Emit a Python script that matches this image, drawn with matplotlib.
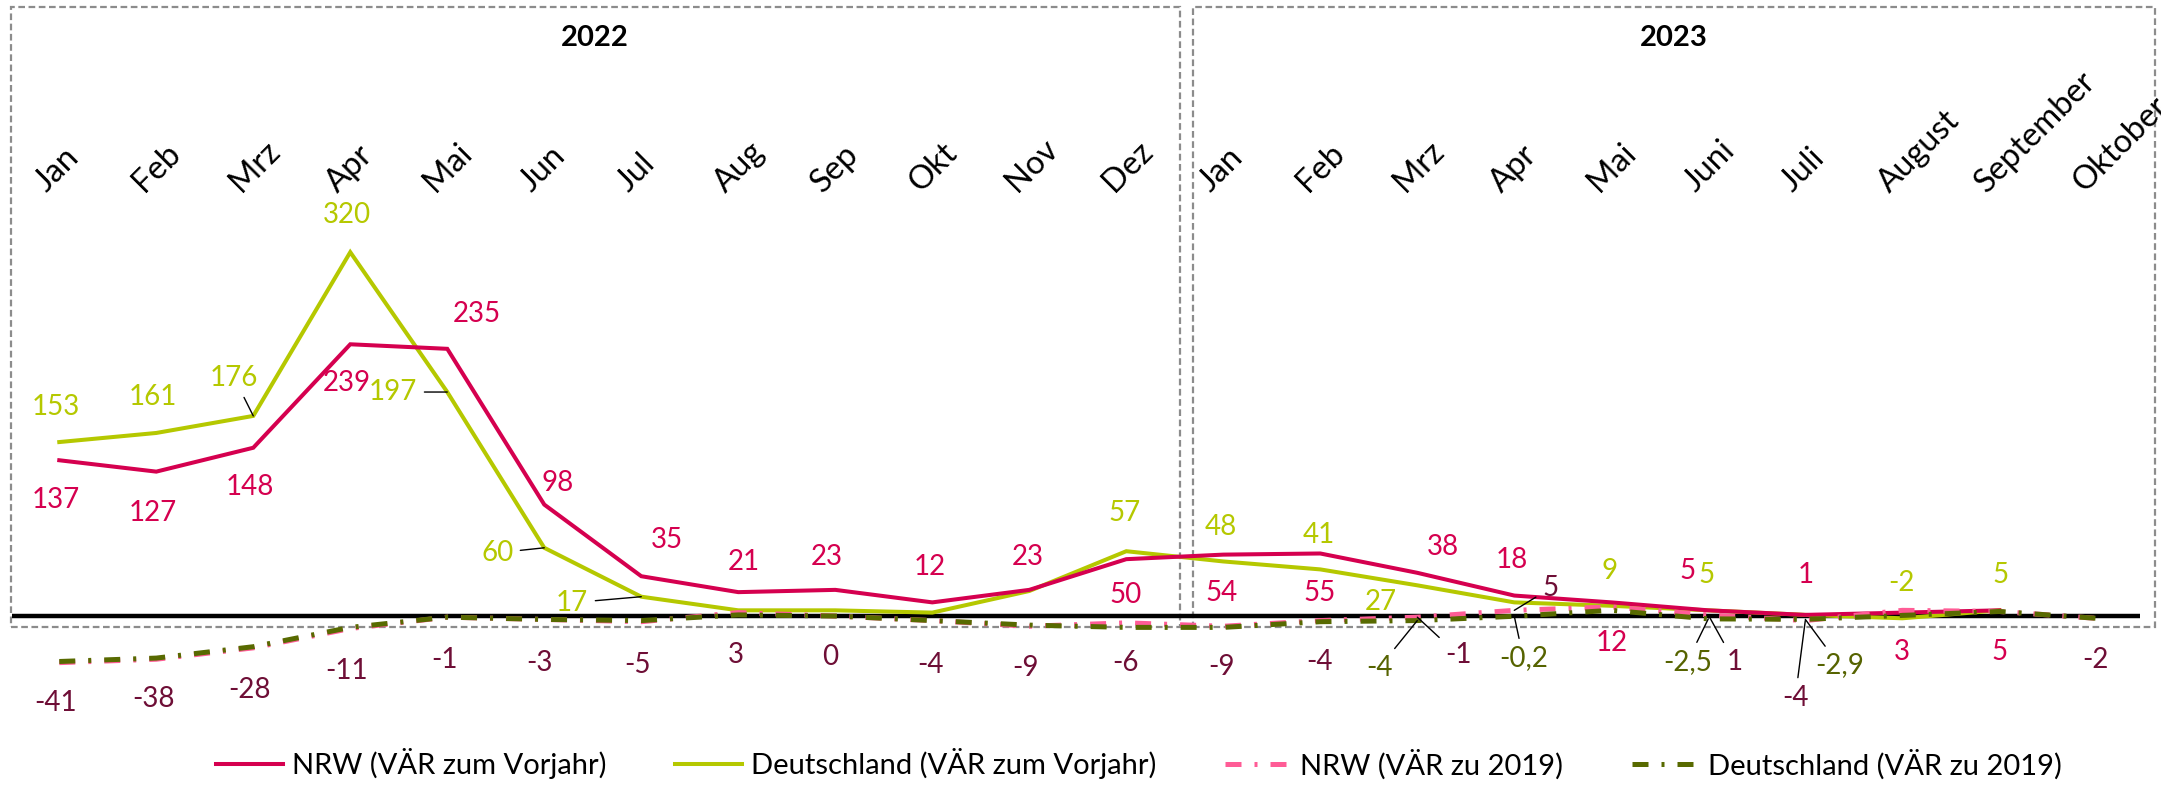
import matplotlib
matplotlib.use('Agg')
import matplotlib.pyplot as plt
import numpy as np
from matplotlib.patches import Rectangle
from matplotlib.lines import Line2D

plt.rcParams['font.family'] = ['Lato', 'DejaVu Sans']

# ---------------- data ----------------
years = ['2022', '2023']
months_2022 = ['Jan', 'Feb', 'Mrz', 'Apr', 'Mai', 'Jun', 'Jul', 'Aug', 'Sep', 'Okt', 'Nov', 'Dez']
months_2023 = ['Jan', 'Feb', 'Mrz', 'Apr', 'Mai', 'Juni', 'Juli', 'August', 'September', 'Oktober']

series_names = ['NRW (VÄR zum Vorjahr)', 'Deutschland (VÄR zum Vorjahr)',
                'NRW (VÄR zu 2019)', 'Deutschland (VÄR zu 2019)']

nrw_vorjahr = [137, 127, 148, 239, 235, 98, 35, 21, 23, 12, 23, 50,
               54, 55, 38, 18, 12, 5, 1, 3, 5, np.nan]
de_vorjahr = [153, 161, 176, 320, 197, 60, 17, 5, 5, 3, 22, 57,
              48, 41, 27, 12, 9, 5, 1, -2, 5, np.nan]
nrw_2019 = [-41, -38, -28, -11, -1, -3, -5, 3, 0, -4, -9, -6,
            -9, -4, -1, 5, 8, 1, -4, 5, 4, -2]
de_2019 = [-40, -37, -27, -10, -1, -3, -4, 1, 0, -4, -8, -10,
           -10, -5, -4, -0.2, 5, -2.5, -2.9, 0.5, 4, -2]

# ---------------- label placement (pixel offsets: dx right, dy down, leader) ----------------
L = True
N = False
nrw_vj_lab = [(-3, 40, N), (-3, 41, N), (-3, 39, N), (-3, 39, N), (30, -35, N), (13, -22, N),
              (26, -36, N), (6, -30, N), (-9, -33, N), (-3, -35, N), (-2, -33, N), (-1, 36, N),
              (-2, 38, N), (-1, 40, N), (26, -26, N), (-2, -36, N), (0, 41, N), (-21, -39, N),
              (0, -40, N), (0, 39, N), (0, 42, N), None]
de_vj_lab = [(-3, -35, N), (-3, -36, N), (-19, -38, L), (-3, -37, N), (-54, 0, L), (-47, 5, L),
             (-69, 6, L), None, None, None, None, (-2, -38, N),
             (-2, -34, N), (-1, -34, N), (-36, 17, N), None, (-2, -35, N), (-2, -35, N),
             None, (-1, -35, N), (1, -35, N), None]
nrw_19_lab = [(-4, 40, N), (-3, 40, N), (-4, 42, N), (-4, 42, N), (-3, 43, N), (-5, 44, N),
              (-4, 43, N), (-2, 42, N), (-5, 41, N), (-2, 44, N), (-4, 42, N), (-1, 40, N),
              (-2, 41, N), (-1, 41, N), (41, 38, L), (36, -22, L), None, (26, 47, L),
              (-10, 77, L), None, None, (-1, 42, N)]
de_19_lab = [None] * 14 + [(-38, 47, L), (9, 42, L), None, (-21, 43, L), (34, 46, L),
                           None, None, None]

# ---------------- style ----------------
C_NRW = '#D5004F'
C_DE = '#B5C800'
C_NRW19 = '#FF5C96'
C_DE19 = '#586A00'
C_LAB_NRW19 = '#6E0E36'
C_LAB_DE19 = '#566300'
FS = 20

fig = plt.figure(figsize=(21.61, 7.86), dpi=100)
ax = fig.add_axes([0, 0, 1, 1])
ax.set_xlim(-0.611, 21.667)
ax.set_ylim(-149.5, 541.8)
ax.axis('off')

months = months_2022 + months_2023
x = np.arange(len(months))

# zero line
ax.plot([-0.49, 21.45], [0, 0], color='black', lw=3.2, zorder=1.5, solid_capstyle='butt')

dashdot = (0, (3.2, 2.6, 0.6, 2.6))
ax.plot(x, nrw_vorjahr, color=C_NRW, lw=2.9, zorder=3, solid_joinstyle='miter')
ax.plot(x, de_vorjahr, color=C_DE, lw=2.9, zorder=2.9, solid_joinstyle='miter')
ax.plot(x, nrw_2019, color=C_NRW19, lw=3.6, ls=dashdot, zorder=3.1)
ax.plot(x, de_2019, color=C_DE19, lw=3.6, ls=dashdot, zorder=3.2)


def fmt(v):
    if float(v).is_integer():
        return str(int(v))
    return ('%g' % v).replace('.', ',')


def put_labels(vals, labs, color):
    for i, (v, lab) in enumerate(zip(vals, labs)):
        if lab is None or np.isnan(v):
            continue
        dx, dy, leader = lab
        kw = {}
        if leader:
            kw['arrowprops'] = dict(arrowstyle='-', color='black', lw=1.0,
                                    shrinkA=3, shrinkB=0)
        ax.annotate(fmt(v), xy=(i, v), xytext=(dx, -dy), textcoords='offset pixels',
                    ha='center', va='center', fontsize=FS, color=color, zorder=5, **kw)


put_labels(nrw_vorjahr, nrw_vj_lab, C_NRW)
put_labels(de_vorjahr, de_vj_lab, C_DE)
put_labels(nrw_2019, nrw_19_lab, C_LAB_NRW19)
put_labels(de_2019, de_19_lab, C_LAB_DE19)

# month labels (rotated, anchored bottom-left)
for i, m in enumerate(months):
    ax.annotate(m, xy=(i, 368), xytext=(-8, 0), textcoords='offset pixels',
                rotation=45, rotation_mode='anchor', ha='left', va='bottom',
                fontsize=23.5, color='black', annotation_clip=False)

# year boxes
box_edges = [(-0.498, 11.55), (11.69, 21.60)]
for (x0, x1), yr in zip(box_edges, years):
    ax.add_patch(Rectangle((x0, -9.7), x1 - x0, 545.3, fill=False, edgecolor='#8C8C8C',
                           lw=1.6, ls=(0, (3, 1.6)), zorder=1, clip_on=False))
    ax.text((x0 + x1) / 2, 508, yr, ha='center', va='center', fontsize=21,
            fontweight='bold', color='black')

# legend
handles = [Line2D([], [], color=C_NRW, lw=2.9),
           Line2D([], [], color=C_DE, lw=2.9),
           Line2D([], [], color=C_NRW19, lw=3.6, ls=dashdot),
           Line2D([], [], color=C_DE19, lw=3.6, ls=dashdot)]
fig.legend(handles, series_names, loc='center', bbox_to_anchor=(0.527, 0.028), ncol=4,
           frameon=False, fontsize=21, handlelength=2.3, handletextpad=0.3,
           columnspacing=2.35)

fig.savefig('out.png', dpi=100)
